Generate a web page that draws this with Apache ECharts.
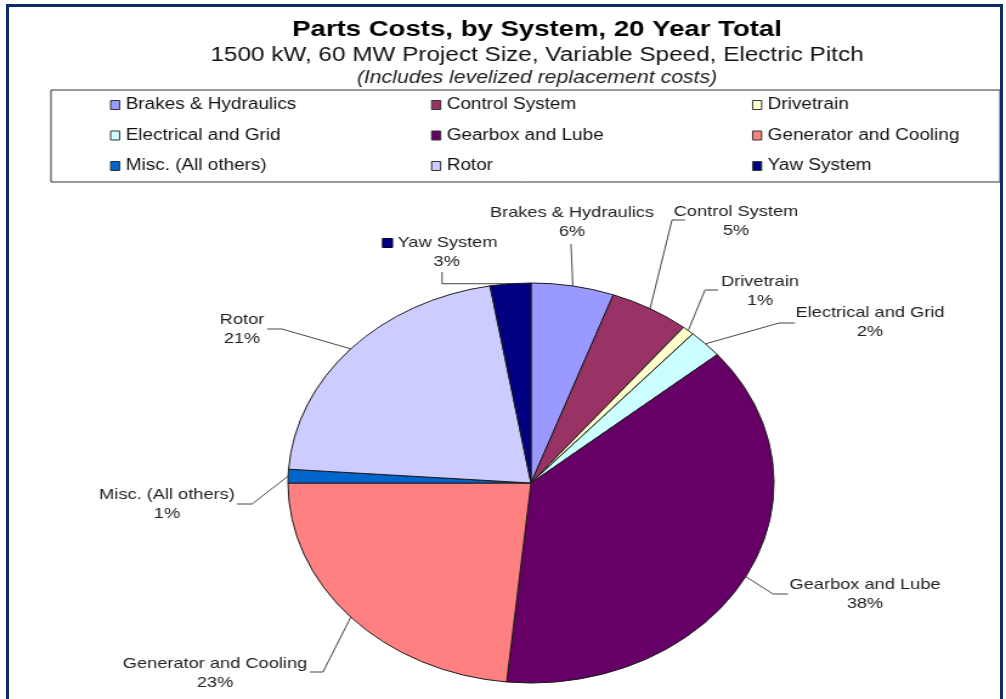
<!DOCTYPE html>
<html>
<head>
<meta charset="utf-8">
<script src="https://cdn.jsdelivr.net/npm/echarts@6/dist/echarts.min.js"></script>
<style>
html,body{margin:0;padding:0;background:#fff;overflow:hidden;width:1006px;height:699px;}
#chart{position:absolute;left:0;top:0;width:828px;height:699px;transform:scaleX(1.215);transform-origin:0 0;}
#frame{position:absolute;left:6px;top:4px;width:997px;height:720px;border:3px solid #0d2b6b;border-bottom:none;box-sizing:border-box;pointer-events:none;}
</style>
</head>
<body>
<div id="chart"></div>
<div id="frame"></div>
<script>
// ---- data ----
const categories = ['Brakes & Hydraulics','Control System','Drivetrain','Electrical and Grid','Gearbox and Lube','Generator and Cooling','Misc. (All others)','Rotor','Yaw System'];
const shares = [5.5, 5.3, 0.8, 2.3, 37.7, 23.4, 1.1, 21.2, 2.7];
const sliceColors = ['#9999ff','#993366','#ffffcc','#ccffff','#660066','#ff8080','#0066cc','#ccccff','#000080'];
const titleText = 'Parts Costs, by System, 20 Year Total';
const subtitleText = '1500 kW, 60 MW Project Size, Variable Speed, Electric Pitch';
const noteText = '(Includes levelized replacement costs)';

// ---- layout (horizontal stretch of the whole picture) ----
const SX = 1.215;
const FONT = '"Liberation Sans", Arial, sans-serif';
// label block centres and leader-line bends, in picture pixels
const labelPlace = [
  {x:572, y:222.5, line:[[571,244]]},
  {x:736, y:221,   line:[[672,220],[685,220]]},
  {x:760, y:291.5, line:[[705,290],[718,290]]},
  {x:870, y:322.5, line:[[779,323],[795,323]]},
  {x:865, y:594.5, line:[[773,594],[788,594]]},
  {x:215, y:673.5, line:[[323,672],[310,672]]},
  {x:167, y:504.5, line:[[252,504],[237,504]]},
  {x:242, y:329.5, line:[[282,329],[267,329]]},
  {x:440, y:252.5, line:[[442,null],[442,272]]}
];
const pieCenter = [531 / SX, 483];
const pieRadius = 200;

const chart = echarts.init(document.getElementById('chart'), null, {renderer:'canvas'});

const seriesData = categories.map((c, i) => ({name:c, value:shares[i], itemStyle:{color:sliceColors[i]}}));

chart.setOption({
  animation:false,
  backgroundColor:'transparent',
  textStyle:{fontFamily:FONT},
  title:[
    {text:titleText, left:537/SX, top:18.5, textAlign:'center', padding:0,
     textStyle:{fontFamily:FONT, fontSize:22.7, fontWeight:'bold', color:'#000', lineHeight:22}},
    {text:subtitleText, left:537/SX, top:46, textAlign:'center', padding:0,
     textStyle:{fontFamily:FONT, fontSize:20, fontWeight:'normal', color:'#111', lineHeight:19}},
    {text:noteText, left:537/SX, top:70, textAlign:'center', padding:0,
     textStyle:{fontFamily:FONT, fontSize:17.5, fontStyle:'italic', fontWeight:'normal', color:'#222', lineHeight:16}}
  ],
  legend:{
    data:categories,
    left:110/SX, top:95.5, width:790, padding:0,
    orient:'horizontal',
    icon:'rect', itemWidth:9/SX, itemHeight:9, itemGap:11.5,
    itemStyle:{borderColor:'#333', borderWidth:1},
    selectedMode:false,
    textStyle:{fontFamily:FONT, fontSize:15.6, lineHeight:19, color:'#111', width:239.8, overflow:'none'}
  },
  graphic:[
    {type:'rect', silent:true, z:-1,
     shape:{x:51/SX, y:90, width:(1000-51)/SX, height:92},
     style:{fill:'none', stroke:'#333', lineWidth:1}}
  ],
  series:[{
    type:'pie',
    center:pieCenter,
    radius:pieRadius,
    startAngle:90,
    clockwise:true,
    percentPrecision:0,
    avoidLabelOverlap:false,
    silent:true,
    data:seriesData,
    itemStyle:{borderColor:'#1a1a1a', borderWidth:1},
    label:{
      show:true, position:'outside',
      fontFamily:FONT, fontSize:15, lineHeight:19, color:'#222',
      formatter:function(p){
        if (p.dataIndex === 8) return '{sq|}{n| ' + p.name + '}\n{p|' + p.percent + '%}';
        return p.name + '\n' + p.percent + '%';
      },
      rich:{
        sq:{width:8.2, height:9, backgroundColor:'#000080', borderColor:'#000', borderWidth:0.5},
        n:{fontFamily:FONT, fontSize:15, lineHeight:19, color:'#222'},
        p:{fontFamily:FONT, fontSize:15, lineHeight:19, color:'#222', padding:[0,0,0,11]}
      }
    },
    labelLine:{show:true, length:10, length2:10, smooth:false, lineStyle:{color:'#444', width:1}},
    labelLayout:function(p){
      const pl = labelPlace[p.dataIndex];
      let p0 = p.labelLinePoints && p.labelLinePoints[0];
      if (!p0) {
        const total = shares.reduce((a,b)=>a+b,0);
        let before = 0;
        for (let k = 0; k < p.dataIndex; k++) before += shares[k];
        const ang = (before + shares[p.dataIndex]/2) / total * Math.PI * 2;
        p0 = [pieCenter[0] + pieRadius*Math.sin(ang), pieCenter[1] - pieRadius*Math.cos(ang)];
      }
      const pts = [p0.slice()].concat(pl.line.map(q => [q[0]/SX, q[1] == null ? p0[1] : q[1]]));
      return {x:pl.x/SX, y:pl.y, align:'center', verticalAlign:'middle', labelLinePoints:pts};
    }
  }]
});
</script>
</body>
</html>
